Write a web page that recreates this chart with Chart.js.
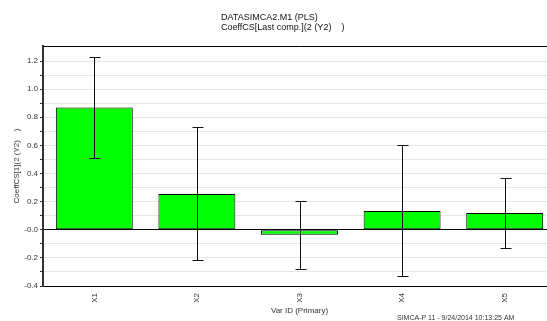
<!DOCTYPE html>
<html>
<head>
<meta charset="utf-8">
<script src="https://cdn.jsdelivr.net/npm/chart.js@4.4.0/dist/chart.umd.min.js"></script>
<style>
  html, body { margin: 0; padding: 0; background: #fff; overflow: hidden; }
  #wrap { width: 547px; height: 321px; overflow: hidden; }
</style>
</head>
<body>
<div id="wrap"><canvas id="coeffChart" width="560" height="321"></canvas></div>
<script>
// values
const varIds = ['X1', 'X2', 'X3', 'X4', 'X5'];
const coeffValues = [0.87, 0.255, -0.036, 0.133, 0.119];
const errLow = [0.512, -0.217, -0.279, -0.331, -0.133];
const errHigh = [1.226, 0.733, 0.202, 0.6, 0.367];
const yTickValues = [-0.4, -0.3, -0.2, -0.1, 0, 0.1, 0.2, 0.3, 0.4, 0.5, 0.6, 0.7, 0.8, 0.9, 1.0, 1.1, 1.2];
const yTickLabels = ['-0.4', '', '-0.2', '', '-0.0', '', '0.2', '', '0.4', '', '0.6', '', '0.8', '', '1.0', '', '1.2'];
const titleLines = ['DATASIMCA2.M1 (PLS)', 'CoeffCS[Last comp.](2 (Y2)    )'];
const footerText = 'SIMCA-P 11 - 9/24/2014 10:13:25 AM';

const FONT = '"Liberation Sans", Arial, sans-serif';

const errorBars = {
  id: 'errorBars',
  afterDatasetsDraw(chart) {
    const ctx = chart.ctx;
    const meta = chart.getDatasetMeta(0);
    const y = chart.scales.y;
    ctx.save();
    ctx.strokeStyle = '#111';
    ctx.lineWidth = 1;
    meta.data.forEach((bar, i) => {
      const x = Math.round(bar.x) + 0.5;
      const top = Math.round(y.getPixelForValue(errHigh[i])) + 0.5;
      const bot = Math.round(y.getPixelForValue(errLow[i])) + 0.5;
      ctx.beginPath();
      ctx.moveTo(x, top); ctx.lineTo(x, bot);
      ctx.moveTo(x - 5, top); ctx.lineTo(x + 6, top);
      ctx.moveTo(x - 5, bot); ctx.lineTo(x + 6, bot);
      ctx.stroke();
    });
    ctx.restore();
  }
};

// top frame line + header / footer text
const frame = {
  id: 'frame',
  afterDraw(chart) {
    const ctx = chart.ctx;
    const a = chart.chartArea;
    ctx.save();
    ctx.strokeStyle = '#000';
    ctx.lineWidth = 1;
    ctx.beginPath();
    ctx.moveTo(a.left, a.top + 0.5);
    ctx.lineTo(a.right, a.top + 0.5);
    ctx.stroke();

    ctx.fillStyle = '#111';
    ctx.textAlign = 'left';
    ctx.textBaseline = 'top';
    ctx.font = '9px ' + FONT;
    ctx.fillText(titleLines[0], 221, 13);
    ctx.fillText(titleLines[1], 221, 23);

    ctx.font = '7px ' + FONT;
    ctx.fillStyle = '#333';
    ctx.fillText(footerText, 397, 315);
    ctx.restore();
  }
};

new Chart(document.getElementById('coeffChart'), {
  type: 'bar',
  data: {
    labels: varIds,
    datasets: [{
      data: coeffValues,
      backgroundColor: '#00ff00',
      borderColor: '#000',
      borderWidth: 1,
      borderSkipped: false,
      barPercentage: 0.75,
      categoryPercentage: 1.0
    }]
  },
  options: {
    responsive: false,
    devicePixelRatio: 1,
    animation: false,
    layout: { padding: { top: 46, right: 4, left: 0, bottom: 0 } },
    plugins: {
      legend: { display: false },
      tooltip: { enabled: false }
    },
    scales: {
      x: {
        grid: { display: false },
        border: { color: '#000', width: 1 },
        ticks: {
          color: '#333',
          font: { family: FONT, size: 8 },
          maxRotation: 90,
          minRotation: 90,
          padding: -1
        },
        title: {
          display: true,
          text: 'Var ID (Primary)',
          color: '#333',
          font: { family: FONT, size: 8 },
          padding: { top: 0, bottom: 5 }
        },
        afterFit(scale) { scale.height = 35; }
      },
      y: {
        min: -0.4,
        max: 1.307,
        afterBuildTicks(scale) {
          scale.ticks = yTickValues.map(v => ({ value: v }));
        },
        ticks: {
          color: '#333',
          font: { family: FONT, size: 8 },
          padding: 2,
          callback(value, index) { return yTickLabels[index]; }
        },
        grid: {
          color(c) { return c.tick && c.tick.value === 0 ? '#000' : '#e6e6e6'; },
          tickColor: '#333',
          tickLength: 3,
          lineWidth: 1
        },
        border: { color: '#333', width: 2 },
        title: {
          display: true,
          text: 'CoeffCS[1](2 (Y2)    )',
          color: '#333',
          font: { family: FONT, size: 8 },
          padding: { top: 12, bottom: 0 }
        },
        afterFit(scale) { scale.width = 43; }
      }
    }
  },
  plugins: [errorBars, frame]
});
</script>
</body>
</html>
